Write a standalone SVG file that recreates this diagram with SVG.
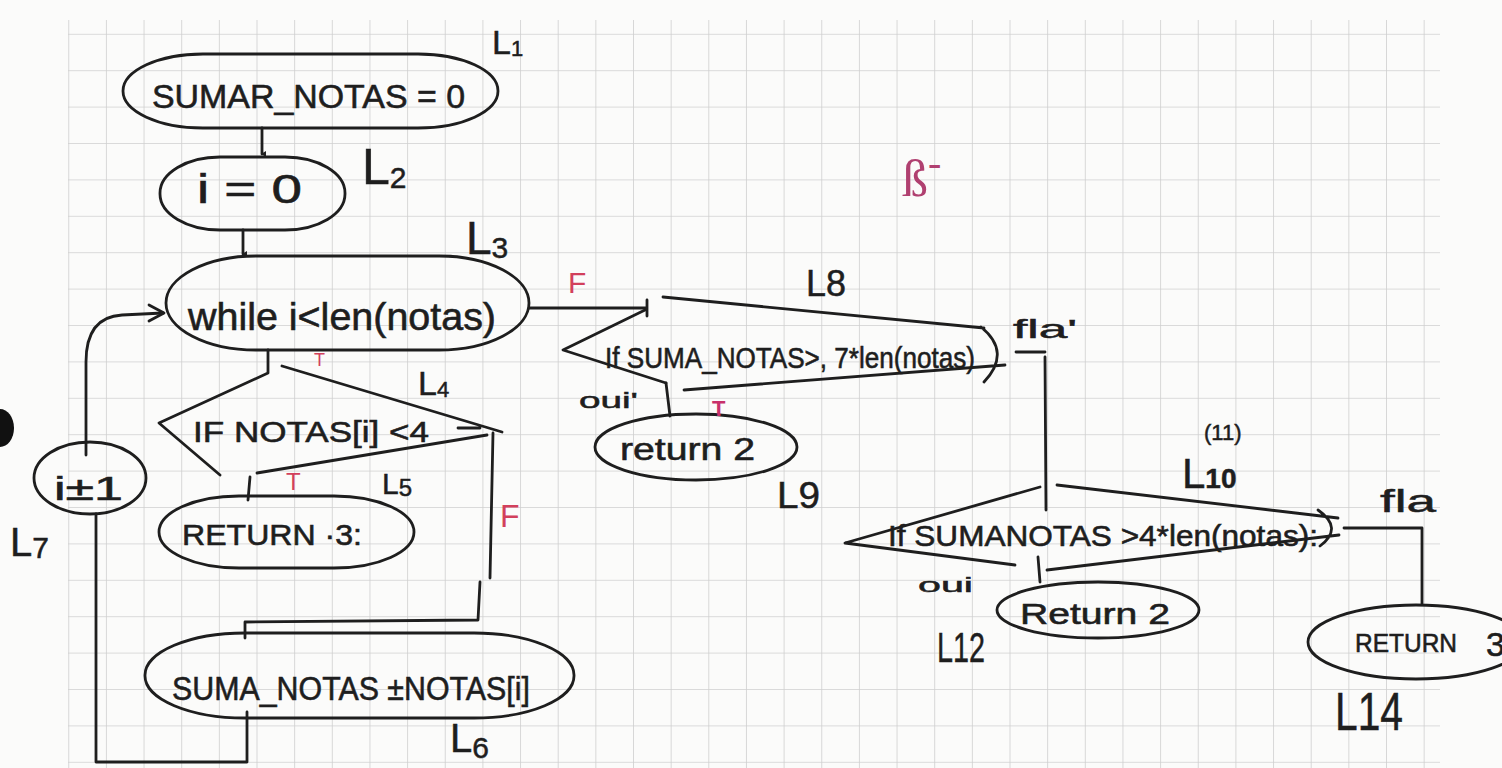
<svg xmlns="http://www.w3.org/2000/svg" width="1502" height="768" viewBox="0 0 1502 768">
<defs>
<pattern id="grid" x="30.6" y="-2.6" width="37.65" height="36.4" patternUnits="userSpaceOnUse">
<path d="M0 0 H37.65 M0 0 V36.4" fill="none" stroke="#cfcfcf" stroke-width="1.6"/>
</pattern>
<marker id="tip" viewBox="0 0 10 10" refX="5" refY="9" markerWidth="10" markerHeight="10" markerUnits="userSpaceOnUse" orient="auto">
<path d="M2 5 L5 10 L8 5 Z" fill="#222"/>
</marker>
</defs>
<style>
.ln{fill:none;stroke:#1e1e1e;stroke-width:2.8;stroke-linecap:round;stroke-linejoin:round}
.sh{fill:none;stroke:#1e1e1e;stroke-width:2.8}
.tx{font-family:"Liberation Sans",Arial,sans-serif;fill:#1e1e1e;stroke:#1e1e1e;stroke-width:0.6}
.lb{font-family:"Liberation Sans",Arial,sans-serif;fill:#1e1e1e;stroke:#1e1e1e;stroke-width:0.5}
.rd{font-family:"Liberation Sans",Arial,sans-serif;fill:#d2405c}
</style>
<rect width="1502" height="768" fill="#fbfbfa"/>
<rect x="68" y="20" width="1372" height="748" fill="url(#grid)"/>
<ellipse cx="0" cy="428" rx="14" ry="19" fill="#111"/>

<g id="connectors">
<line class="ln" x1="262" y1="128" x2="262" y2="154" marker-end="url(#tip)"/>
<line class="ln" x1="243" y1="230" x2="243" y2="254" marker-end="url(#tip)"/>
<path class="ln" d="M86 455 L86 362 Q86 317 122 315 L163 313"/>
<path class="ln" d="M149 305 L164 313 L149 321"/>
<path class="ln" d="M529 308 L647 308 M647 300 L647 316"/>
<path class="ln" d="M250 477 L248 500"/>
<path class="ln" d="M493 433 L490 578 M480 582 L478 620 L245 622 L245 638"/>
<path class="ln" d="M247 712 L247 762 L96 762 L96 514"/>
<path class="ln" d="M666 383 L670 416"/>
<path class="ln" d="M1016 352 L1045 352 M1045 357 L1046 510"/>
<path class="ln" d="M1038 557 L1040 582"/>
<path class="ln" d="M1344 528 L1422 528 L1422 604"/>
</g>

<g id="n1-sumar">
<rect class="sh" x="123" y="54" width="375" height="74" rx="80" ry="37"/>
<text class="tx" x="152" y="108" font-size="34" textLength="313" lengthAdjust="spacingAndGlyphs">SUMAR_NOTAS = 0</text>
</g>
<g id="n2-i0">
<rect class="sh" x="160" y="157" width="185" height="73" rx="60" ry="36"/>
<text class="tx" x="197" y="203" font-size="40" textLength="105" lengthAdjust="spacingAndGlyphs">i = 0</text>
</g>
<g id="n3-while">
<rect class="sh" x="166" y="256" width="363" height="94" rx="90" ry="47"/>
<text class="tx" x="188" y="330" font-size="38" textLength="308" lengthAdjust="spacingAndGlyphs">while i&lt;len(notas)</text>
</g>
<g id="n4-if1">
<path class="ln" d="M268 350 L268 373 L159 423 L220 475 M282 366 L502 432 M487 435 L257 473 M458 428 L480 428"/>
<text class="tx" x="193" y="442" font-size="30" textLength="236" lengthAdjust="spacingAndGlyphs">IF NOTAS[i] &lt;4</text>
</g>
<g id="n5-return3">
<rect class="sh" x="159" y="496" width="255" height="72" rx="80" ry="36"/>
<text class="tx" x="182" y="545" font-size="30" textLength="180" lengthAdjust="spacingAndGlyphs">RETURN ·3:</text>
</g>
<g id="n6-suma">
<rect class="sh" x="145" y="633" width="429" height="85" rx="100" ry="42"/>
<text class="tx" x="172" y="700" font-size="34" textLength="358" lengthAdjust="spacingAndGlyphs">SUMA_NOTAS ±NOTAS[i]</text>
</g>
<g id="n7-inc">
<ellipse class="sh" cx="90" cy="478" rx="56" ry="36"/>
<text class="tx" x="54" y="500" font-size="34" textLength="69" lengthAdjust="spacingAndGlyphs">i±1</text>
</g>
<g id="n8-if2">
<path class="ln" d="M645 310 L563 350 L666 383 M663 297 L984 328 M981 327 Q1012 352 984 382 M1005 365 L684 390"/>
<text class="tx" x="605" y="368" font-size="30" textLength="370" lengthAdjust="spacingAndGlyphs">If SUMA_NOTAS&gt;, 7*len(notas)</text>
</g>
<g id="n9-return2">
<ellipse class="sh" cx="696" cy="447" rx="101" ry="33"/>
<text class="tx" x="620" y="460" font-size="32" textLength="135" lengthAdjust="spacingAndGlyphs">return 2</text>
</g>
<g id="n10-if3">
<path class="ln" d="M1040 487 L845 543 L1015 565 M1057 485 L1338 518 M1318 510 Q1344 528 1320 546 M1339 535 L1047 570"/>
<text class="tx" x="888" y="546" font-size="30" textLength="430" lengthAdjust="spacingAndGlyphs">If SUMANOTAS &gt;4*len(notas):</text>
</g>
<g id="n11-return2b">
<ellipse class="sh" cx="1098" cy="610" rx="101" ry="28"/>
<text class="tx" x="1020" y="624" font-size="30" textLength="150" lengthAdjust="spacingAndGlyphs">Return 2</text>
</g>
<g id="n12-return3b">
<ellipse class="sh" cx="1416" cy="642" rx="108" ry="37"/>
<text class="tx" x="1355" y="652" font-size="26" textLength="102" lengthAdjust="spacingAndGlyphs">RETURN</text>
<text class="tx" x="1486" y="656" font-size="34">3</text>
</g>

<g id="labels">
<text class="lb" x="492" y="54" font-size="34">L<tspan font-size="22" dy="2">1</tspan></text>
<text class="lb" x="362" y="184" font-size="50">L<tspan font-size="30" dy="4">2</tspan></text>
<text class="lb" x="466" y="254" font-size="46">L<tspan font-size="30" dy="4">3</tspan></text>
<text class="lb" x="418" y="395" font-size="34">L<tspan font-size="22" dy="2">4</tspan></text>
<text class="lb" x="382" y="494" font-size="30">L<tspan font-size="24" dy="2">5</tspan></text>
<text class="lb" x="450" y="752" font-size="40">L<tspan font-size="30" dy="6">6</tspan></text>
<text class="lb" x="10" y="556" font-size="40">L<tspan font-size="30" dy="2">7</tspan></text>
<text class="lb" x="806" y="296" font-size="36" textLength="40" lengthAdjust="spacingAndGlyphs">L8</text>
<text class="lb" x="777" y="508" font-size="36" textLength="43" lengthAdjust="spacingAndGlyphs">L9</text>
<text class="lb" x="1182" y="488" font-size="42">L<tspan font-size="28" font-weight="bold">10</tspan></text>
<text class="lb" x="1204" y="440" font-size="22">(11)</text>
<text class="lb" x="937" y="662" font-size="42" textLength="48" lengthAdjust="spacingAndGlyphs">L12</text>
<text class="lb" x="1335" y="730" font-size="54" textLength="68" lengthAdjust="spacingAndGlyphs">L14</text>
<text class="lb" x="1013" y="338" font-size="26" textLength="64" lengthAdjust="spacingAndGlyphs">fla'</text>
<text class="lb" x="579" y="408" font-size="22" textLength="59" lengthAdjust="spacingAndGlyphs">oui'</text>
<text class="lb" x="918" y="592" font-size="20" textLength="55" lengthAdjust="spacingAndGlyphs">oui</text>
<text class="lb" x="1380" y="512" font-size="32" textLength="56" lengthAdjust="spacingAndGlyphs">fla</text>
<text class="rd" x="568" y="293" font-size="30">F</text>
<text class="rd" x="500" y="527" font-size="32">F</text>
<text class="rd" x="314" y="366" font-size="18">T</text>
<text class="rd" x="286" y="490" font-size="24">T</text>
<text class="rd" x="712" y="416" font-size="22" font-weight="bold" style="fill:#c8306a">T</text>
<text x="902" y="196" font-family="Liberation Serif, serif" font-size="52" fill="#b04070">ß<tspan font-size="40" dy="-20">-</tspan></text>
</g>
</svg>
